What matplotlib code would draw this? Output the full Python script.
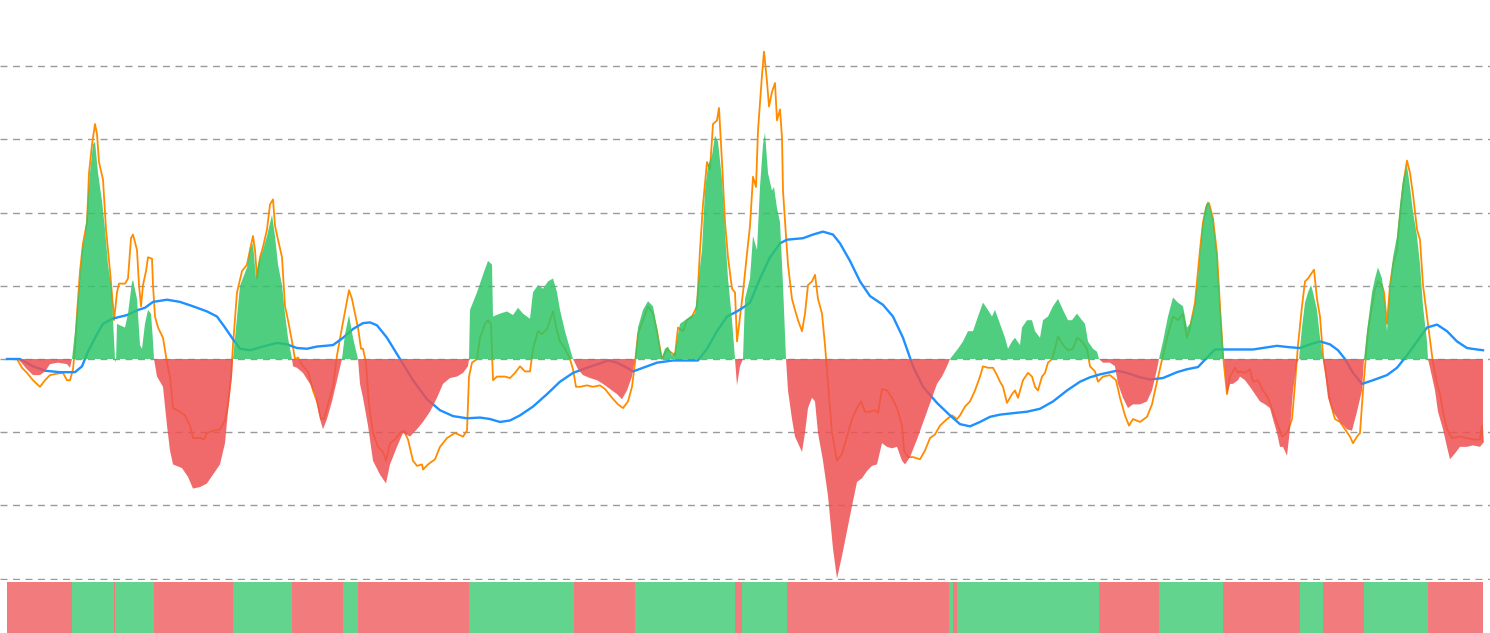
import numpy as np
import matplotlib.pyplot as plt

# oscillator area: (day, value)
osc_pts = [
    (0, 0), (11, 0), (20, -0.14), (26, -0.22), (33, -0.22), (38, -0.17), (43, -0.07), (51, -0.05),
    (60, -0.07), (63, -0.12), (65, 0), (68, 0.38), (71, 0.82), (75, 1.49), (78, 1.68), (80, 2.01),
    (83, 2.54), (86, 2.93), (88, 2.97), (91, 2.54), (95, 2.16), (98, 1.77), (101, 1.29), (105, 0.91),
    (106, 0.53), (108, 0), (109, -0.05), (110, 0.48), (113, 0.46), (118, 0.43), (121, 0.62), (125, 1.05),
    (126, 1.08), (130, 0.82), (133, 0.19), (135, 0.14), (138, 0.48), (141, 0.67), (144, 0.62), (146, 0.24),
    (147, 0), (150, -0.24), (156, -0.38), (160, -0.91), (163, -1.25), (166, -1.44), (175, -1.49), (181, -1.61),
    (186, -1.77), (193, -1.75), (200, -1.70), (206, -1.58), (213, -1.44), (218, -1.15), (221, -0.72), (225, -0.24),
    (226, 0), (233, 1.00), (240, 1.25), (243, 1.49), (246, 1.58), (249, 1.10), (251, 1.29), (256, 1.49),
    (260, 1.68), (265, 1.97), (268, 1.68), (271, 1.29), (275, 1.01), (278, 0.62), (281, 0.29), (285, 0),
    (286, -0.10), (290, -0.12), (296, -0.19), (303, -0.34), (308, -0.48), (313, -0.82), (316, -0.96), (320, -0.82),
    (325, -0.58), (330, -0.29), (335, 0), (338, 0.34), (342, 0.60), (346, 0.29), (351, 0), (353, -0.34),
    (356, -0.53), (361, -0.91), (366, -1.39), (373, -1.58), (379, -1.70), (383, -1.44), (390, -1.20), (396, -1.01),
    (403, -1.06), (410, -0.96), (416, -0.86), (423, -0.72), (430, -0.53), (436, -0.34), (443, -0.26), (450, -0.24),
    (456, -0.19), (461, -0.10), (462, 0), (463, 0.67), (470, 0.91), (476, 1.15), (481, 1.34), (485, 1.29),
    (486, 0.58), (493, 0.62), (500, 0.65), (506, 0.60), (511, 0.70), (516, 0.62), (523, 0.55), (526, 0.91),
    (531, 1.01), (536, 0.96), (541, 1.06), (546, 1.10), (550, 0.91), (553, 0.67), (558, 0.38), (563, 0.14),
    (566, 0), (571, -0.14), (576, -0.22), (583, -0.26), (590, -0.29), (596, -0.34), (603, -0.41), (610, -0.48),
    (615, -0.55), (620, -0.43), (625, -0.24), (628, 0), (631, 0.43), (636, 0.67), (641, 0.79), (646, 0.72),
    (650, 0.43), (655, 0.02), (658, 0.14), (661, 0.17), (665, 0.05), (668, 0.10), (673, 0.48), (678, 0.53),
    (683, 0.58), (688, 0.62), (691, 1.01), (695, 1.49), (698, 2.30), (701, 2.64), (705, 2.78), (708, 3.05),
    (711, 2.97), (715, 2.45), (718, 1.73), (721, 1.10), (725, 0.53), (728, 0), (730, -0.36), (733, -0.10),
    (736, 0), (738, 0.82), (743, 1.10), (746, 1.68), (750, 1.49), (753, 2.35), (756, 2.93), (758, 3.09),
    (761, 2.54), (765, 2.30), (767, 2.35), (770, 2.06), (773, 1.87), (776, 1.01), (779, 0), (781, -0.43),
    (785, -0.82), (788, -1.06), (791, -1.15), (795, -1.27), (798, -1.01), (801, -0.67), (805, -0.53), (808, -0.58),
    (811, -1.01), (816, -1.39), (821, -1.87), (826, -2.59), (830, -3.00), (835, -2.69), (840, -2.35), (845, -2.01),
    (850, -1.68), (855, -1.63), (860, -1.53), (865, -1.46), (870, -1.44), (875, -1.15), (880, -1.20), (885, -1.22),
    (890, -1.20), (895, -1.39), (898, -1.44), (903, -1.34), (910, -1.10), (915, -0.91), (920, -0.72), (925, -0.53),
    (930, -0.34), (935, -0.24), (940, -0.10), (943, 0), (951, 0.14), (956, 0.24), (961, 0.38), (966, 0.38),
    (971, 0.58), (976, 0.77), (981, 0.67), (985, 0.58), (988, 0.67), (993, 0.48), (998, 0.29), (1001, 0.14),
    (1005, 0.24), (1008, 0.29), (1013, 0.19), (1015, 0.43), (1020, 0.53), (1025, 0.53), (1028, 0.38), (1033, 0.29),
    (1036, 0.53), (1041, 0.58), (1046, 0.72), (1051, 0.82), (1056, 0.67), (1061, 0.53), (1065, 0.53), (1070, 0.62),
    (1075, 0.53), (1078, 0.48), (1081, 0.24), (1086, 0.14), (1090, 0.10), (1092, 0), (1096, -0.05), (1103, -0.05),
    (1108, -0.10), (1111, -0.34), (1116, -0.53), (1121, -0.67), (1126, -0.62), (1133, -0.62), (1140, -0.58), (1145, -0.43),
    (1150, -0.14), (1152, 0), (1156, 0.24), (1161, 0.58), (1166, 0.84), (1171, 0.77), (1176, 0.72), (1180, 0.43),
    (1183, 0.48), (1187, 0.67), (1191, 1.10), (1195, 1.77), (1198, 2.06), (1201, 2.16), (1206, 1.92), (1210, 1.44),
    (1213, 0.77), (1216, 0.19), (1217, 0), (1220, -0.48), (1223, -0.34), (1226, -0.34), (1231, -0.29), (1233, -0.24),
    (1238, -0.29), (1243, -0.38), (1248, -0.48), (1253, -0.58), (1258, -0.62), (1263, -0.67), (1266, -0.82), (1270, -1.01),
    (1273, -1.20), (1276, -1.20), (1280, -1.32), (1283, -0.96), (1286, -0.43), (1290, -0.05), (1292, 0), (1295, 0.43),
    (1298, 0.77), (1301, 0.91), (1304, 1.01), (1306, 0.91), (1310, 0.67), (1313, 0.29), (1316, 0), (1318, -0.19),
    (1321, -0.53), (1326, -0.72), (1333, -0.86), (1340, -0.96), (1345, -0.98), (1350, -0.72), (1355, -0.43), (1357, 0),
    (1360, 0.38), (1365, 0.91), (1368, 1.10), (1371, 1.25), (1375, 1.10), (1378, 0.72), (1380, 0.38), (1383, 1.01),
    (1386, 1.39), (1390, 1.68), (1393, 2.11), (1396, 2.45), (1400, 2.64), (1403, 2.35), (1406, 2.01), (1410, 1.68),
    (1413, 1.29), (1416, 0.72), (1420, 0.24), (1421, 0), (1425, -0.24), (1428, -0.43), (1431, -0.72), (1436, -0.96),
    (1440, -1.20), (1443, -1.37), (1448, -1.29), (1453, -1.20), (1460, -1.20), (1466, -1.18), (1473, -1.20), (1476, -1.15),
]

# orange line: (day, value)
orange_pts = [
    (10, 0), (15, -0.12), (20, -0.19), (26, -0.29), (33, -0.38), (38, -0.29), (43, -0.22), (50, -0.20),
    (56, -0.19), (60, -0.29), (63, -0.29), (66, -0.14), (68, 0.14), (70, 0.62), (73, 1.20), (76, 1.58),
    (80, 1.87), (82, 2.54), (85, 2.93), (88, 3.21), (90, 3.07), (92, 2.69), (96, 2.45), (99, 1.77),
    (103, 1.20), (106, 0.72), (107, 0.53), (110, 0.91), (112, 1.03), (118, 1.03), (121, 1.10), (124, 1.65),
    (126, 1.70), (130, 1.49), (132, 1.01), (134, 0.72), (136, 1.01), (139, 1.20), (141, 1.39), (145, 1.37),
    (146, 1.01), (148, 0.58), (151, 0.43), (156, 0.29), (160, -0.05), (163, -0.24), (166, -0.67), (173, -0.72),
    (178, -0.77), (183, -0.91), (186, -1.08), (193, -1.08), (197, -1.10), (200, -1.01), (206, -0.98), (213, -0.96),
    (218, -0.84), (221, -0.62), (224, -0.24), (226, 0.19), (230, 0.91), (235, 1.20), (240, 1.29), (243, 1.49),
    (246, 1.68), (248, 1.49), (250, 1.10), (253, 1.39), (256, 1.53), (260, 1.77), (263, 2.11), (266, 2.18),
    (268, 1.82), (271, 1.63), (275, 1.39), (278, 0.72), (281, 0.53), (285, 0.24), (288, 0), (291, 0.02),
    (296, -0.10), (301, -0.17), (306, -0.43), (310, -0.58), (314, -0.82), (317, -0.82), (321, -0.62), (326, -0.38),
    (330, 0.05), (335, 0.43), (339, 0.72), (342, 0.94), (345, 0.82), (348, 0.62), (351, 0.43), (354, 0.14),
    (356, 0.14), (359, -0.05), (362, -0.62), (366, -1.01), (371, -1.20), (376, -1.27), (379, -1.39), (383, -1.15),
    (388, -1.10), (393, -1.01), (397, -0.98), (401, -1.10), (406, -1.39), (410, -1.46), (415, -1.44), (416, -1.51),
    (421, -1.44), (428, -1.37), (433, -1.20), (440, -1.08), (448, -1.01), (456, -1.06), (460, -0.98), (462, -0.24),
    (465, -0.05), (470, 0), (473, 0.29), (478, 0.48), (481, 0.53), (484, 0.48), (486, -0.29), (490, -0.24),
    (493, -0.24), (498, -0.24), (503, -0.26), (508, -0.19), (513, -0.10), (518, -0.17), (523, -0.17), (526, 0.14),
    (531, 0.38), (535, 0.34), (540, 0.41), (543, 0.53), (546, 0.65), (550, 0.38), (553, 0.24), (558, 0.14),
    (563, 0), (566, -0.14), (569, -0.38), (573, -0.38), (580, -0.36), (586, -0.38), (593, -0.36), (598, -0.41),
    (605, -0.53), (611, -0.62), (616, -0.67), (621, -0.58), (625, -0.38), (628, -0.05), (631, 0.34), (636, 0.53),
    (641, 0.72), (646, 0.62), (650, 0.38), (653, 0.14), (655, 0), (660, 0.14), (663, 0.10), (668, 0.05),
    (671, 0.43), (676, 0.38), (680, 0.53), (685, 0.58), (690, 0.72), (693, 1.49), (696, 2.11), (700, 2.69),
    (703, 2.59), (706, 3.21), (710, 3.26), (712, 3.43), (715, 2.69), (718, 1.87), (721, 1.39), (725, 0.96),
    (728, 0.91), (730, 0.24), (733, 0.58), (736, 0.91), (740, 1.44), (743, 1.82), (746, 2.49), (749, 2.35),
    (751, 3.12), (755, 3.88), (757, 4.20), (760, 3.79), (762, 3.45), (765, 3.65), (768, 3.77), (770, 3.26),
    (773, 3.41), (775, 3.02), (776, 2.30), (779, 1.68), (781, 1.29), (785, 0.82), (788, 0.67), (791, 0.53),
    (795, 0.38), (798, 0.62), (801, 1.01), (805, 1.06), (808, 1.15), (811, 0.82), (815, 0.62), (818, 0.19),
    (821, -0.34), (825, -1.01), (830, -1.39), (835, -1.29), (840, -1.06), (845, -0.82), (850, -0.67), (854, -0.58),
    (858, -0.72), (863, -0.72), (868, -0.70), (871, -0.74), (875, -0.41), (880, -0.43), (885, -0.53), (890, -0.67),
    (895, -0.91), (897, -1.25), (901, -1.34), (906, -1.34), (913, -1.37), (918, -1.25), (923, -1.08), (928, -1.03),
    (933, -0.91), (940, -0.82), (945, -0.77), (950, -0.82), (953, -0.77), (958, -0.65), (963, -0.58), (968, -0.43),
    (973, -0.24), (976, -0.10), (981, -0.12), (986, -0.12), (990, -0.22), (993, -0.31), (996, -0.38), (1000, -0.60),
    (1005, -0.48), (1008, -0.43), (1011, -0.53), (1016, -0.29), (1021, -0.19), (1025, -0.24), (1028, -0.38), (1031, -0.43),
    (1035, -0.24), (1038, -0.19), (1041, -0.05), (1045, 0), (1048, 0.14), (1051, 0.31), (1056, 0.19), (1061, 0.12),
    (1066, 0.14), (1070, 0.29), (1075, 0.24), (1080, 0.14), (1083, -0.10), (1088, -0.17), (1091, -0.31), (1096, -0.24),
    (1103, -0.22), (1109, -0.29), (1113, -0.53), (1118, -0.77), (1122, -0.91), (1126, -0.82), (1133, -0.86), (1140, -0.79),
    (1145, -0.62), (1148, -0.43), (1152, -0.19), (1156, 0.05), (1161, 0.34), (1166, 0.58), (1171, 0.53), (1176, 0.62),
    (1180, 0.29), (1183, 0.43), (1188, 0.77), (1193, 1.49), (1196, 1.87), (1200, 2.11), (1202, 2.13), (1206, 1.92),
    (1210, 1.44), (1213, 0.72), (1216, 0.05), (1220, -0.48), (1223, -0.24), (1228, -0.12), (1231, -0.19), (1233, -0.17),
    (1238, -0.19), (1243, -0.14), (1246, -0.31), (1251, -0.29), (1256, -0.43), (1261, -0.53), (1266, -0.72), (1271, -0.91),
    (1275, -1.06), (1278, -1.03), (1281, -0.98), (1285, -0.82), (1288, -0.34), (1291, 0.19), (1295, 0.72), (1298, 1.06),
    (1301, 1.10), (1305, 1.18), (1307, 1.22), (1310, 0.82), (1313, 0.58), (1316, 0.05), (1320, -0.29), (1323, -0.58),
    (1328, -0.82), (1333, -0.86), (1338, -0.96), (1343, -1.06), (1346, -1.15), (1350, -1.06), (1353, -1.01), (1356, -0.43),
    (1358, -0.10), (1361, 0.38), (1365, 0.72), (1368, 0.96), (1371, 1.06), (1375, 1.01), (1377, 0.91), (1380, 0.48),
    (1383, 1.01), (1386, 1.29), (1390, 1.49), (1392, 1.82), (1396, 2.35), (1398, 2.54), (1400, 2.71), (1403, 2.54),
    (1406, 2.25), (1410, 1.77), (1413, 1.63), (1416, 1.01), (1420, 0.58), (1423, 0.26), (1426, -0.05), (1430, -0.34),
    (1433, -0.48), (1436, -0.72), (1440, -0.96), (1445, -1.08), (1453, -1.06), (1460, -1.08), (1466, -1.10), (1473, -1.10),
    (1475, -0.91), (1476, -1.13),
]

# blue line: (day, value)
blue_pts = [
    (0, 0), (13, 0), (26, -0.10), (38, -0.16), (53, -0.18), (68, -0.18), (75, -0.10), (81, 0.10),
    (90, 0.34), (96, 0.48), (105, 0.55), (120, 0.60), (131, 0.67), (138, 0.70), (146, 0.78), (160, 0.81),
    (173, 0.78), (186, 0.72), (200, 0.65), (210, 0.58), (218, 0.43), (225, 0.29), (233, 0.14), (243, 0.12),
    (256, 0.17), (270, 0.22), (280, 0.20), (290, 0.15), (300, 0.14), (310, 0.17), (326, 0.19), (336, 0.29),
    (346, 0.41), (356, 0.49), (363, 0.50), (370, 0.46), (380, 0.29), (393, 0), (406, -0.29), (420, -0.55),
    (433, -0.70), (446, -0.78), (460, -0.81), (473, -0.80), (483, -0.82), (493, -0.86), (503, -0.84), (513, -0.77),
    (526, -0.65), (540, -0.48), (553, -0.31), (566, -0.19), (580, -0.12), (593, -0.06), (601, -0.02), (610, -0.05),
    (620, -0.12), (626, -0.17), (636, -0.12), (650, -0.05), (666, -0.02), (691, -0.02), (700, 0.14), (710, 0.38),
    (720, 0.58), (730, 0.65), (738, 0.72), (743, 0.77), (753, 1.10), (763, 1.39), (773, 1.58), (780, 1.63),
    (796, 1.65), (806, 1.70), (816, 1.74), (826, 1.70), (833, 1.58), (843, 1.34), (853, 1.06), (863, 0.86),
    (876, 0.74), (886, 0.58), (896, 0.29), (906, -0.10), (916, -0.38), (930, -0.60), (943, -0.77), (953, -0.89),
    (963, -0.92), (973, -0.86), (983, -0.79), (993, -0.76), (1006, -0.74), (1020, -0.72), (1033, -0.68), (1046, -0.58),
    (1060, -0.43), (1073, -0.31), (1083, -0.25), (1093, -0.21), (1110, -0.16), (1120, -0.19), (1133, -0.25), (1143, -0.28),
    (1156, -0.26), (1170, -0.18), (1180, -0.14), (1191, -0.11), (1200, 0.02), (1208, 0.13), (1220, 0.13), (1233, 0.13),
    (1246, 0.13), (1260, 0.16), (1270, 0.18), (1283, 0.16), (1293, 0.15), (1303, 0.20), (1313, 0.24), (1323, 0.20),
    (1331, 0.12), (1338, 0), (1346, -0.19), (1355, -0.34), (1366, -0.29), (1380, -0.22), (1390, -0.12), (1400, 0.05),
    (1410, 0.24), (1420, 0.43), (1430, 0.47), (1440, 0.38), (1450, 0.24), (1460, 0.15), (1470, 0.13), (1476, 0.12),
]

# bottom strip: segment edges (days) and state (1 = bull / green, 0 = bear / red)
strip_edges = [0, 65, 107, 108, 147, 226, 285, 336, 351, 462, 567, 628, 728, 735, 780, 942,
               946, 950, 1092, 1152, 1216, 1293, 1316, 1357, 1421, 1476]
strip_state = [0, 1, 0, 1, 0, 1, 0, 1, 0, 1, 0, 1, 0, 1, 0, 1, 0, 1, 0, 1, 0, 1, 0, 1, 0]

grid_levels = [-3, -2, -1, 0, 1, 2, 3, 4]

GREEN = '#2fc668'
RED = '#ee5052'

osc_day, osc_val = map(np.array, zip(*osc_pts))
or_day, or_val = map(np.array, zip(*orange_pts))
bl_day, bl_val = map(np.array, zip(*blue_pts))

fig = plt.figure(figsize=(14.9, 6.33), dpi=100)
W, H = 1490, 633
ax = fig.add_axes([0, 53 / H, 1, 580 / H])

ax.plot(or_day, or_val, color='#ff8c00', lw=1.3, zorder=2)
ax.plot(bl_day, bl_val, color='#1e90ff', lw=1.7, zorder=2)
ax.fill_between(osc_day, osc_val, 0, where=osc_val >= 0, interpolate=True,
                color=GREEN, alpha=0.85, lw=0, zorder=3)
ax.fill_between(osc_day, osc_val, 0, where=osc_val <= 0, interpolate=True,
                color=RED, alpha=0.85, lw=0, zorder=3)

ax.set_xlim(-7, 1483)
ax.set_ylim(-221 / 73.2, 359 / 73.2)
ax.set_yticks(grid_levels)
ax.grid(axis='y', color='#9a9a9a', lw=1, ls=(0, (5, 4)))
ax.set_axisbelow(True)
ax.tick_params(left=False, bottom=False, labelleft=False, labelbottom=False)
for s in ax.spines.values():
    s.set_visible(False)
ax.patch.set_alpha(0)

# state strip
ax2 = fig.add_axes([7 / W, 0, 1476 / W, 51 / H])
for i, st in enumerate(strip_state):
    ax2.axvspan(strip_edges[i], strip_edges[i + 1], color=GREEN if st else RED,
                alpha=0.75, lw=0)
ax2.set_xlim(strip_edges[0], strip_edges[-1])
ax2.set_ylim(0, 1)
ax2.axis('off')

fig.savefig('out.png', dpi=100)
